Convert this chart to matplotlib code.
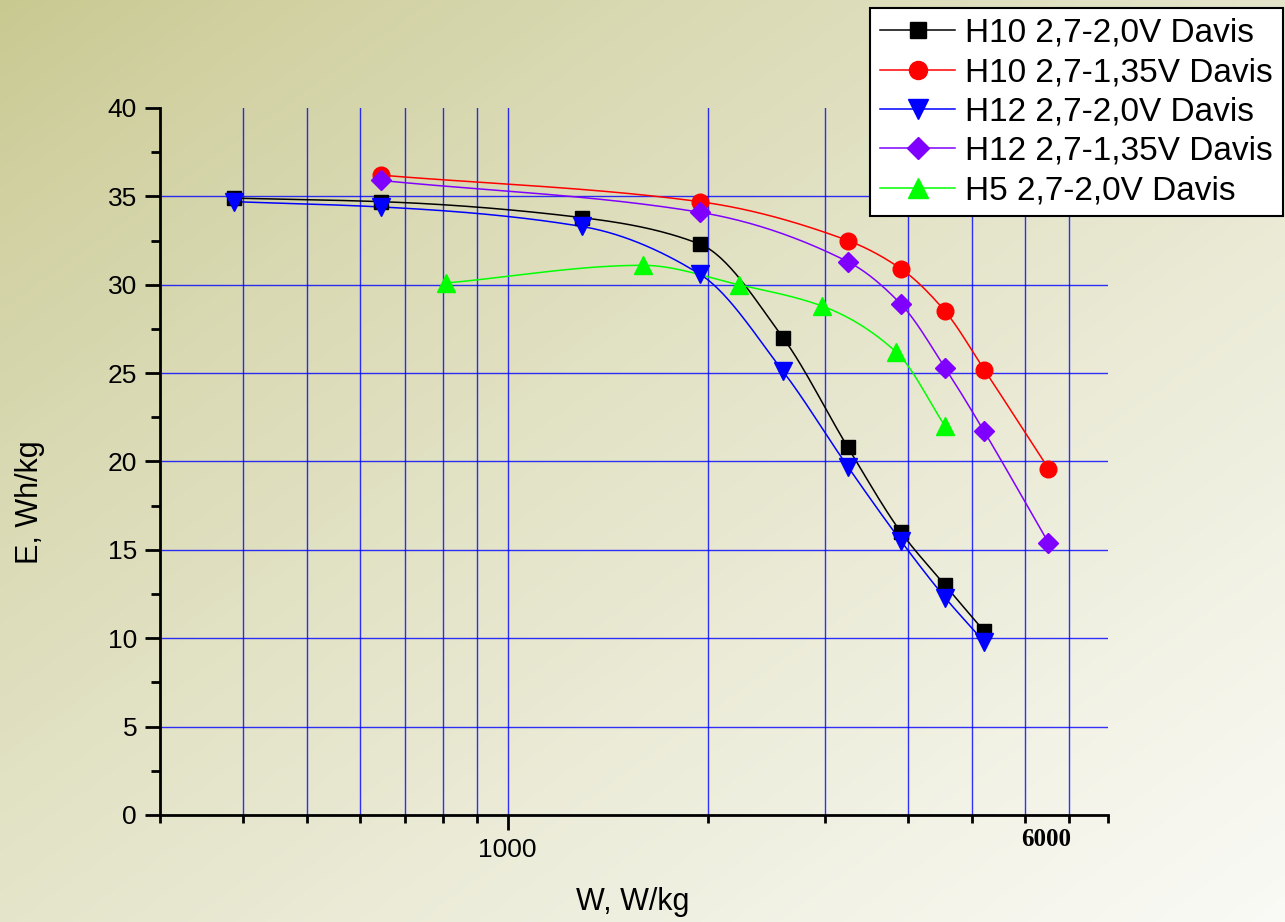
import numpy as np
import matplotlib
matplotlib.use("Agg")
import matplotlib.pyplot as plt
from matplotlib.lines import Line2D

plt.rcParams['font.family'] = ['Liberation Sans', 'DejaVu Sans']

# ---- data ----
w_h10_20 = [388, 646, 1292, 1946, 2596, 3250, 3906, 4550, 5210]
e_h10_20 = [34.9, 34.7, 33.8, 32.3, 27.0, 20.8, 16.0, 13.0, 10.4]

w_h10_135 = [646, 1946, 3250, 3906, 4550, 5210, 6510]
e_h10_135 = [36.2, 34.7, 32.5, 30.9, 28.5, 25.2, 19.6]

w_h12_20 = [388, 646, 1292, 1946, 2596, 3250, 3906, 4550, 5210]
e_h12_20 = [34.7, 34.4, 33.3, 30.6, 25.1, 19.7, 15.5, 12.3, 9.8]

w_h12_135 = [646, 1946, 3250, 3906, 4550, 5210, 6510]
e_h12_135 = [35.9, 34.1, 31.3, 28.9, 25.3, 21.7, 15.4]

w_h5_20 = [809, 1597, 2228, 2970, 3840, 4550]
e_h5_20 = [30.1, 31.1, 30.0, 28.8, 26.2, 22.0]

labels = ["H10 2,7-2,0V Davis", "H10 2,7-1,35V Davis", "H12 2,7-2,0V Davis",
          "H12 2,7-1,35V Davis", "H5 2,7-2,0V Davis"]
colors = ["#000000", "#ff0000", "#0000ff", "#8000ff", "#00ff00"]
markers = ["s", "o", "v", "D", "^"]
msizes = [10, 12, 13, 10, 13]
series = [(w_h10_20, e_h10_20), (w_h10_135, e_h10_135), (w_h12_20, e_h12_20),
          (w_h12_135, e_h12_135), (w_h5_20, e_h5_20)]

y_ticks = [0, 5, 10, 15, 20, 25, 30, 35, 40]
x_grid = [400, 500, 600, 700, 800, 900, 1000, 2000, 3000, 4000, 5000, 6000, 7000]


def pchip(x, y, xn):
    x = np.asarray(x, float); y = np.asarray(y, float)
    h = np.diff(x); d = np.diff(y) / h
    n = len(x)
    m = np.zeros(n)
    for k in range(1, n - 1):
        if d[k - 1] * d[k] > 0:
            w1 = 2 * h[k] + h[k - 1]; w2 = h[k] + 2 * h[k - 1]
            m[k] = (w1 + w2) / (w1 / d[k - 1] + w2 / d[k])
    m[0] = d[0]; m[-1] = d[-1]
    idx = np.clip(np.searchsorted(x, xn) - 1, 0, n - 2)
    t = (xn - x[idx]) / h[idx]
    h00 = 2 * t**3 - 3 * t**2 + 1; h10 = t**3 - 2 * t**2 + t
    h01 = -2 * t**3 + 3 * t**2; h11 = t**3 - t**2
    return h00 * y[idx] + h10 * h[idx] * m[idx] + h01 * y[idx + 1] + h11 * h[idx] * m[idx + 1]


W, H = 1285, 922
fig = plt.figure(figsize=(W / 100, H / 100), dpi=100)

# background gradient
bg = fig.add_axes([0, 0, 1, 1], zorder=-10)
gx, gy = np.meshgrid(np.linspace(0, 1, 300), np.linspace(0, 1, 300))
t = np.clip((gx + gy) / 2.0, 0, 1) ** 0.8
c0 = np.array([200, 200, 144]) / 255.0
c1 = np.array([250, 250, 246]) / 255.0
img = c0[None, None, :] * (1 - t[..., None]) + c1[None, None, :] * t[..., None]
bg.imshow(img, extent=[0, 1, 0, 1], aspect='auto', origin='upper')
bg.axis('off')

ax = fig.add_axes([160 / W, 1 - 815 / H, (1108 - 160) / W, (815 - 108) / H])
ax.patch.set_alpha(0)
ax.set_xscale('log')
ax.set_xlim(300, 8000)
ax.set_ylim(0, 40)

for xg in x_grid:
    ax.axvline(xg, color='#0000ff', lw=1.0, alpha=0.8, zorder=1)
for yg in y_ticks[1:-1]:
    ax.axhline(yg, color='#0000ff', lw=1.0, alpha=0.8, zorder=1)

handles = []
for (w, e), c, mk, ms, lab in zip(series, colors, markers, msizes, labels):
    lw = np.log10(w)
    xs = np.linspace(lw[0], lw[-1], 300)
    ax.plot(10 ** xs, pchip(lw, e, xs), color=c, lw=1.1, zorder=3)
    ax.plot(w, e, linestyle='none', marker=mk, color=c, markersize=ms, zorder=4)
    handles.append(Line2D([0], [0], color=c, lw=1.1, marker=mk, markersize=ms + 1, label=lab))

for s in ['top', 'right']:
    ax.spines[s].set_visible(False)
for s in ['left', 'bottom']:
    ax.spines[s].set_linewidth(2.0)

ax.set_yticks(y_ticks)
ax.set_yticks(np.arange(2.5, 40, 5), minor=True)
ax.tick_params(axis='y', which='major', length=10.5, width=2, labelsize=19, direction='out', pad=6)
ax.tick_params(axis='y', which='minor', length=6.5, width=2, direction='out')

ax.xaxis.set_major_locator(matplotlib.ticker.FixedLocator([1000]))
ax.xaxis.set_minor_locator(matplotlib.ticker.FixedLocator(
    [300, 400, 500, 600, 700, 800, 900, 2000, 3000, 4000, 5000, 6000, 7000, 8000]))
ax.xaxis.set_major_formatter(matplotlib.ticker.FixedFormatter(["1000"]))
ax.xaxis.set_minor_formatter(matplotlib.ticker.NullFormatter())
ax.tick_params(axis='x', which='major', length=10.5, width=2, labelsize=19, direction='out', pad=6)
ax.tick_params(axis='x', which='minor', length=6, width=2, direction='out')

fig.text(1071 / W, 1 - 846 / H, "6000", ha='right', va='baseline', fontsize=18,
         fontweight='bold', family='Liberation Serif')

fig.text(633 / W, 1 - 910 / H, "W, W/kg", ha='center', va='baseline', fontsize=22)
fig.text(30 / W, 1 - 502 / H, "E, Wh/kg", ha='center', va='center', rotation=90, fontsize=22)

leg = fig.legend(handles=handles, loc='upper right', bbox_to_anchor=(1283 / W, 1 - 8 / H),
                 fontsize=24, frameon=True, fancybox=False, edgecolor='black',
                 handlelength=2.25, handletextpad=0.3, borderpad=0.3, labelspacing=0.25,
                 borderaxespad=0)
leg.get_frame().set_linewidth(1.5)
leg.get_frame().set_facecolor('white')
leg.get_frame().set_alpha(1)

fig.savefig("out.png", dpi=100)
